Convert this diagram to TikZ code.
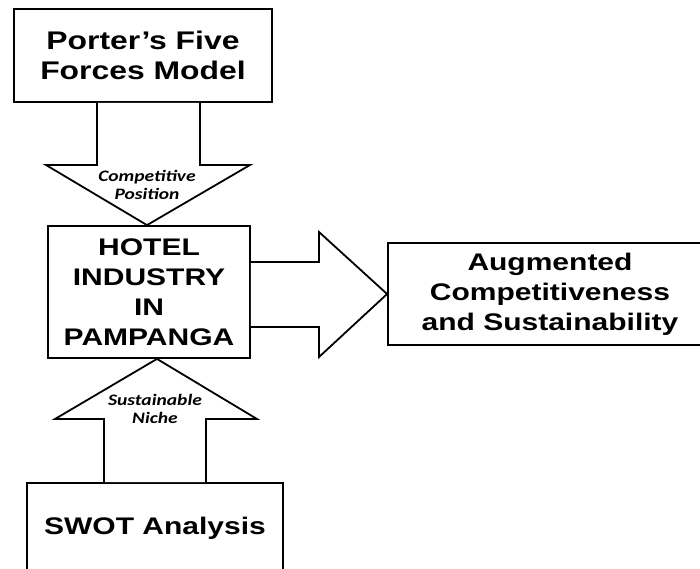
\documentclass[tikz,border=0pt]{standalone}
\usepackage{fontspec}
\newfontfamily\boxfont{Liberation Sans}[FakeStretch=1.25]
\newfontfamily\labfont{Carlito}[FakeStretch=1.22]
\usetikzlibrary{calc}
\begin{document}
\begin{tikzpicture}[x=1pt,y=-1pt,
  box/.style={draw=black, line width=1.8pt, fill=white, inner sep=0pt, align=center,
    font=\boxfont\bfseries\fontsize{24}{30}\selectfont},
  bigbox/.style={box, font=\boxfont\bfseries\fontsize{25.5}{30}\selectfont},
  blockarrow/.style={draw=black, line width=1.8pt, fill=white, line join=miter},
  lab/.style={inner sep=0pt, align=center, font=\labfont\bfseries\itshape\fontsize{16}{18.5}\selectfont}]
\useasboundingbox (0,0) rectangle (700,568);
\clip (0,0) rectangle (700,568);
\fill[white] (0,0) rectangle (700,568);
% boxes
\node[bigbox, minimum width=258pt, minimum height=93pt] (porter) at (143,55.5) {Porter’s Five\\Forces Model};
\node[box, minimum width=202pt, minimum height=132pt] (hotel) at (149,292) {HOTEL\\INDUSTRY\\IN\\PAMPANGA};
\node[box, minimum width=324pt, minimum height=102pt] (aug) at (550,294) {Augmented\\Competitiveness\\and Sustainability};
\node[box, minimum width=256pt, minimum height=90pt] (swot) at (155,528) {SWOT Analysis};
% down arrow
\coordinate (dtip) at (147,0 |- hotel.north);
\draw[blockarrow] (97,0 |- porter.south) -- (97,165) -- (46,165) -- (dtip) -- (250,165) -- (200,165) -- (200,0 |- porter.south);
\node[lab] (comp) at (147,185) {Competitive\\Position};
% up arrow
\coordinate (utip) at (157,0 |- hotel.south);
\draw[blockarrow] (104,0 |- swot.north) -- (104,419) -- (55,419) -- (utip) -- (257,419) -- (206,419) -- (206,0 |- swot.north);
\node[lab] (niche) at (155,409) {Sustainable\\Niche};
% right arrow
\coordinate (rtip) at (aug.west);
\draw[blockarrow] (hotel.east |- 0,262) -- (319,262) -- (319,232) -- (rtip) -- (319,357) -- (319,327) -- (hotel.east |- 0,327);
\end{tikzpicture}
\end{document}
